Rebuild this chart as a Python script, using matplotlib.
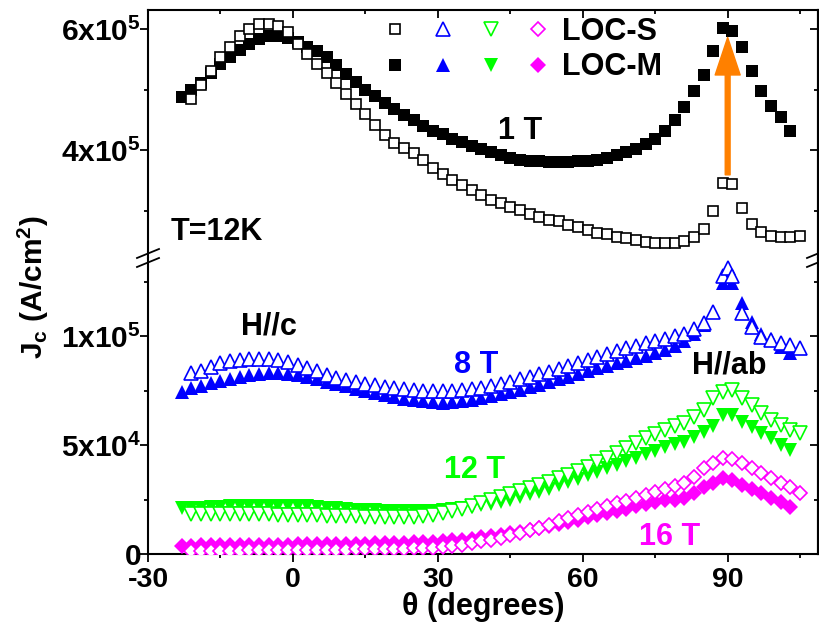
import numpy as np
import matplotlib
matplotlib.use('Agg')
import matplotlib.pyplot as plt
from matplotlib.ticker import MultipleLocator
from matplotlib.legend_handler import HandlerTuple
from matplotlib.lines import Line2D

plt.rcParams['font.family'] = 'Liberation Sans'
plt.rcParams['font.weight'] = 'bold'
plt.rcParams['axes.labelweight'] = 'bold'
plt.rcParams['axes.unicode_minus'] = False
plt.rcParams['mathtext.fontset'] = 'custom'
plt.rcParams['mathtext.rm'] = 'Liberation Sans:bold'
plt.rcParams['mathtext.it'] = 'Liberation Sans:bold'
plt.rcParams['mathtext.bf'] = 'Liberation Sans:bold'
plt.rcParams['mathtext.default'] = 'rm'

# angles (degrees) -- LOC-M starts at -23, LOC-S at -21
theta_m = [-23, -21, -19, -17, -15, -13, -11, -9, -7, -5, -3, -1, 1, 3, 5, 7, 9, 11, 13, 15,
           17, 19, 21, 23, 25, 27, 29, 31, 33, 35, 37, 39, 41, 43, 45, 47, 49, 51, 53, 55,
           57, 59, 61, 63, 65, 67, 69, 71, 73, 75, 77, 79, 81, 83, 85, 87, 89, 91, 93, 95,
           97, 99, 101, 103]
theta_s = [-21, -19, -17, -15, -13, -11, -9, -7, -5, -3, -1, 1, 3, 5, 7, 9, 11, 13, 15, 17,
           19, 21, 23, 25, 27, 29, 31, 33, 35, 37, 39, 41, 43, 45, 47, 49, 51, 53, 55, 57,
           59, 61, 63, 65, 67, 69, 71, 73, 75, 77, 79, 81, 83, 85, 87, 89, 91, 93, 95, 97,
           99, 101, 103, 105]
# 8 T runs have an extra point at 90
theta_m8 = [-23, -21, -19, -17, -15, -13, -11, -9, -7, -5, -3, -1, 1, 3, 5, 7, 9, 11, 13, 15,
            17, 19, 21, 23, 25, 27, 29, 31, 33, 35, 37, 39, 41, 43, 45, 47, 49, 51, 53, 55,
            57, 59, 61, 63, 65, 67, 69, 71, 73, 75, 77, 79, 81, 83, 85, 87, 89, 90, 91, 93,
            95, 97, 99, 101, 103]
theta_s8 = [-21, -19, -17, -15, -13, -11, -9, -7, -5, -3, -1, 1, 3, 5, 7, 9, 11, 13, 15, 17,
            19, 21, 23, 25, 27, 29, 31, 33, 35, 37, 39, 41, 43, 45, 47, 49, 51, 53, 55, 57,
            59, 61, 63, 65, 67, 69, 71, 73, 75, 77, 79, 81, 83, 85, 87, 89, 90, 91, 93, 95,
            97, 99, 101, 103, 105]

# Jc at 1 T (x1e5 A/cm2)
jc1_m = [4.88, 4.99, 5.10, 5.27, 5.42, 5.54, 5.65, 5.76, 5.83, 5.89, 5.89, 5.85, 5.79, 5.71,
         5.63, 5.53, 5.40, 5.26, 5.12, 4.99, 4.89, 4.78, 4.67, 4.58, 4.49, 4.40, 4.32, 4.26,
         4.19, 4.13, 4.07, 4.01, 3.96, 3.91, 3.87, 3.84, 3.82, 3.81, 3.80, 3.80, 3.80, 3.81,
         3.82, 3.84, 3.87, 3.91, 3.96, 4.02, 4.10, 4.19, 4.31, 4.50, 4.71, 4.98, 5.24, 5.64,
         6.01, 5.97, 5.71, 5.31, 4.98, 4.73, 4.54, 4.32]
jc1_s = [4.85, 5.07, 5.30, 5.54, 5.71, 5.89, 6.00, 6.08, 6.09, 6.05, 5.95, 5.76, 5.58, 5.42,
         5.27, 5.10, 4.92, 4.76, 4.59, 4.42, 4.25, 4.12, 4.04, 3.95, 3.83, 3.71, 3.61, 3.50,
         3.42, 3.34, 3.26, 3.18, 3.12, 3.06, 3.01, 2.94, 2.90, 2.85, 2.82, 2.76, 2.72, 2.68,
         2.63, 2.61, 2.57, 2.54, 2.51, 2.48, 2.46, 2.46, 2.47, 2.49, 2.56, 2.70, 3.00, 3.45,
         3.43, 3.04, 2.78, 2.65, 2.58, 2.57, 2.57, 2.58]

# Jc at 8 T (x1e4 A/cm2)
jc8_m = [7.45, 7.60, 7.72, 7.84, 7.95, 8.05, 8.13, 8.20, 8.26, 8.29, 8.29, 8.26, 8.20, 8.12,
         8.02, 7.91, 7.80, 7.69, 7.58, 7.48, 7.38, 7.29, 7.21, 7.13, 7.07, 7.02, 6.96, 6.95,
         6.96, 7.00, 7.06, 7.14, 7.23, 7.33, 7.43, 7.54, 7.65, 7.77, 7.89, 8.01, 8.13, 8.26,
         8.39, 8.52, 8.63, 8.75, 8.86, 8.98, 9.10, 9.22, 9.36, 9.54, 9.76, 10.08, 10.50, 11.10,
         12.45, 13.00, 12.45, 11.50, 10.65, 10.10, 9.85, 9.50, 9.20]
jc8_s = [8.29, 8.41, 8.59, 8.78, 8.87, 8.91, 8.93, 8.94, 8.93, 8.90, 8.82, 8.68, 8.53, 8.38,
         8.23, 8.09, 7.98, 7.88, 7.80, 7.74, 7.68, 7.63, 7.58, 7.54, 7.50, 7.48, 7.47, 7.48,
         7.51, 7.56, 7.63, 7.71, 7.80, 7.90, 8.01, 8.12, 8.24, 8.37, 8.50, 8.63, 8.76, 8.90,
         9.04, 9.18, 9.31, 9.44, 9.56, 9.66, 9.76, 9.87, 9.98, 10.10, 10.30, 10.60, 11.10,
         12.75, 13.10, 12.75, 11.07, 10.40, 9.95, 9.80, 9.70, 9.59, 9.43]

# Jc at 12 T (x1e4 A/cm2)
jc12_m = [2.10, 2.12, 2.13, 2.15, 2.16, 2.18, 2.19, 2.20, 2.21, 2.22, 2.22, 2.21, 2.20, 2.18,
          2.16, 2.13, 2.10, 2.07, 2.04, 2.02, 2.00, 1.98, 1.97, 1.96, 1.96, 1.97, 1.99, 2.01,
          2.05, 2.10, 2.16, 2.23, 2.31, 2.40, 2.50, 2.61, 2.73, 2.86, 3.00, 3.15, 3.30, 3.46,
          3.62, 3.78, 3.94, 4.10, 4.26, 4.42, 4.58, 4.74, 4.90, 5.03, 5.15, 5.38, 5.61, 5.87,
          6.38, 6.38, 6.07, 5.84, 5.54, 5.31, 5.00, 4.77]
jc12_s = [1.85, 1.84, 1.84, 1.83, 1.83, 1.82, 1.82, 1.82, 1.82, 1.81, 1.80, 1.79, 1.78, 1.77,
          1.76, 1.75, 1.74, 1.73, 1.72, 1.72, 1.71, 1.71, 1.71, 1.72, 1.75, 1.80, 1.88, 1.98,
          2.08, 2.20, 2.33, 2.46, 2.60, 2.74, 2.88, 3.02, 3.16, 3.31, 3.47, 3.63, 3.80, 3.97,
          4.20, 4.40, 4.62, 4.85, 5.08, 5.30, 5.50, 5.70, 5.86, 6.02, 6.30, 6.61, 7.14, 7.45,
          7.52, 7.14, 6.83, 6.45, 6.15, 5.92, 5.69, 5.54]

# Jc at 16 T (x1e4 A/cm2)
jc16_m = [0.38, 0.38, 0.39, 0.39, 0.40, 0.40, 0.41, 0.41, 0.42, 0.42, 0.43, 0.43, 0.44, 0.44,
          0.45, 0.45, 0.46, 0.46, 0.47, 0.48, 0.49, 0.50, 0.51, 0.52, 0.53, 0.54, 0.55, 0.58,
          0.62, 0.66, 0.71, 0.76, 0.82, 0.88, 0.95, 1.02, 1.10, 1.19, 1.28, 1.38, 1.48, 1.58,
          1.68, 1.78, 1.88, 1.98, 2.08, 2.18, 2.28, 2.38, 2.46, 2.50, 2.55, 2.78, 3.06, 3.24,
          3.47, 3.39, 3.17, 2.97, 2.78, 2.55, 2.40, 2.17]
jc16_s = [0.15, 0.15, 0.15, 0.16, 0.16, 0.16, 0.17, 0.17, 0.17, 0.18, 0.18, 0.18, 0.19, 0.19,
          0.19, 0.20, 0.20, 0.21, 0.21, 0.22, 0.23, 0.24, 0.25, 0.26, 0.27, 0.29, 0.32, 0.37,
          0.43, 0.50, 0.58, 0.66, 0.75, 0.85, 0.96, 1.08, 1.21, 1.35, 1.50, 1.64, 1.78, 1.92,
          2.06, 2.19, 2.32, 2.45, 2.58, 2.72, 2.86, 2.98, 3.10, 3.24, 3.55, 3.93, 4.16, 4.39,
          4.34, 4.16, 3.93, 3.73, 3.47, 3.24, 3.09, 2.78]

fig = plt.figure(figsize=(8.2, 6.3), dpi=100)
W, H = 820.0, 630.0
x0, x1 = 148, 818
y_top, y_brk, y_bot = 10, 258, 554
ax_t = fig.add_axes([x0 / W, 1 - y_brk / H, (x1 - x0) / W, (y_brk - y_top) / H])
ax_b = fig.add_axes([x0 / W, 1 - y_bot / H, (x1 - x0) / W, (y_bot - y_brk) / H])

open_kw = dict(mfc='white', mew=1.2, zorder=4, ls='none')
fill_kw = dict(mew=0, zorder=3, ls='none')

# top panel: 1 T
l_m1, = ax_t.plot(theta_m, np.array(jc1_m) * 1e5, color='black', marker='s', ms=8.5, **fill_kw)
l_s1, = ax_t.plot(theta_s, np.array(jc1_s) * 1e5, color='black', marker='s', ms=7.2, **open_kw)

# bottom panel: 8, 12, 16 T
l_m8, = ax_b.plot(theta_m8, np.array(jc8_m) * 1e4, color='blue', marker='^', ms=10.5, **fill_kw)
l_s8, = ax_b.plot(theta_s8, np.array(jc8_s) * 1e4, color='blue', marker='^', ms=9.5, **open_kw)
l_m12, = ax_b.plot(theta_m, np.array(jc12_m) * 1e4, color='#00FF00', marker='v', ms=10.5, **fill_kw)
l_s12, = ax_b.plot(theta_s, np.array(jc12_s) * 1e4, color='#00FF00', marker='v', ms=9.5, **open_kw)
l_m16, = ax_b.plot(theta_m, np.array(jc16_m) * 1e4, color='magenta', marker='D', ms=8, **fill_kw)
l_s16, = ax_b.plot(theta_s, np.array(jc16_s) * 1e4, color='magenta', marker='D', ms=7, **open_kw)

for ax in (ax_t, ax_b):
    ax.set_xlim(-30, 108.7)
    ax.xaxis.set_major_locator(MultipleLocator(30))
    ax.xaxis.set_minor_locator(MultipleLocator(15))
    for s in ax.spines.values():
        s.set_linewidth(1.5)

ax_t.set_ylim(2.215e5, 6.314e5)
ax_b.set_ylim(0, 13.58e4)
ax_t.spines['bottom'].set_visible(False)
ax_b.spines['top'].set_visible(False)

ax_t.set_yticks([4e5, 6e5], labels=['4x10$^5$', '6x10$^5$'])
ax_t.yaxis.set_minor_locator(MultipleLocator(1e5))
ax_b.set_yticks([0, 5e4, 1e5], labels=['0', '5x10$^4$', '1x10$^5$'])
ax_b.yaxis.set_minor_locator(MultipleLocator(2.5e4))

ax_t.tick_params(axis='x', which='both', bottom=False, top=True, labelbottom=False, direction='in', width=1.3)
ax_t.tick_params(axis='x', which='major', length=6)
ax_t.tick_params(axis='x', which='minor', length=3)
ax_b.tick_params(axis='x', which='both', top=False, direction='out', width=1.3, labelsize=20.5, pad=3.5)
ax_b.tick_params(axis='x', which='major', length=6)
ax_b.tick_params(axis='x', which='minor', length=3)

for ax in (ax_t, ax_b):
    ax.tick_params(axis='y', which='both', left=True, right=False, direction='out', width=1.3,
                   labelsize=21.5, pad=-1)
    ax.tick_params(axis='y', which='major', length=6)
    ax.tick_params(axis='y', which='minor', length=3)
    sec = ax.secondary_yaxis('right')
    sec.yaxis.set_major_locator(ax.yaxis.get_major_locator())
    sec.yaxis.set_minor_locator(ax.yaxis.get_minor_locator())
    sec.tick_params(axis='y', which='both', direction='in', labelright=False, width=1.3)
    sec.tick_params(axis='y', which='major', length=6)
    sec.tick_params(axis='y', which='minor', length=3)
    sec.spines['right'].set_linewidth(1.5)

ax_b.set_xlabel('θ (degrees)', fontsize=22, labelpad=-1)
fig.text(33 / W, 1 - 287 / H, 'J$_{c}$ (A/cm$^{2}$)', rotation=90, fontsize=21.5,
         ha='center', va='center')

# axis break marks
for xb in (x0, x1):
    for dy in (-4.5, 4.5):
        yc = y_brk + dy
        fig.add_artist(Line2D([(xb - 11) / W, (xb + 11) / W],
                              [1 - (yc + 4.5) / H, 1 - (yc - 4.5) / H],
                              color='black', lw=1.3))

# annotations
ax_t.text(47, 4.19e5, '1 T', fontsize=22, ha='center', va='baseline')
ax_t.text(-25.4, 2.51e5, 'T=12K', fontsize=22, ha='left', va='baseline')
ax_b.text(-5, 10.05e4, 'H//c', fontsize=22, ha='center', va='baseline')
ax_b.text(37.9, 8.29e4, '8 T', fontsize=22, ha='center', va='baseline', color='blue')
ax_b.text(90.3, 8.29e4, 'H//ab', fontsize=22, ha='center', va='baseline')
ax_b.text(37.5, 3.47e4, '12 T', fontsize=22, ha='center', va='baseline', color='#00FF00')
ax_b.text(77.9, 0.41e4, '16 T', fontsize=22, ha='center', va='baseline', color='magenta')

ax_t.annotate('', xy=(90, 5.86e5), xytext=(90, 3.59e5),
              arrowprops=dict(facecolor='#FF8000', edgecolor='#FF8000', width=3.5,
                              headwidth=18, headlength=27), zorder=5)

leg = fig.legend([(l_s1, l_s8, l_s12, l_s16), (l_m1, l_m8, l_m12, l_m16)],
                 ['LOC-S', 'LOC-M'],
                 handler_map={tuple: HandlerTuple(ndivide=None, pad=0)},
                 loc='upper left', bbox_to_anchor=(371 / W, 1 - 17 / H),
                 frameon=False, fontsize=22, handlelength=6.26, handletextpad=0.0,
                 borderpad=0, borderaxespad=0, labelspacing=0.175)

fig.savefig('out.png', dpi=100)
